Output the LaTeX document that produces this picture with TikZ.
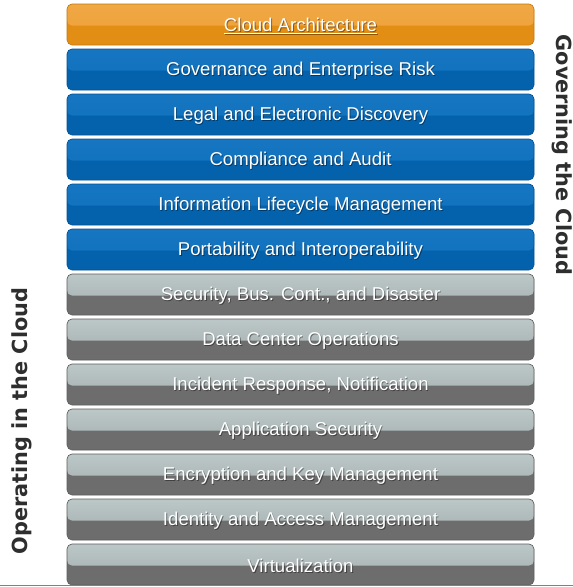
\documentclass[tikz,border=0pt]{standalone}
\usepackage{fontspec}
\setmainfont{Liberation Sans}
\newfontfamily\sidefont{DejaVu Sans}
\usetikzlibrary{calc}
\definecolor{orT}{HTML}{F0A845}
\definecolor{orM}{HTML}{EDA035}
\definecolor{orB}{HTML}{E28E14}
\definecolor{blT}{HTML}{1676C2}
\definecolor{blM}{HTML}{0E6FBB}
\definecolor{blB}{HTML}{0461AC}
\definecolor{grT}{HTML}{BCC7C7}
\definecolor{grM}{HTML}{A2ACAC}
\definecolor{grB}{HTML}{6D6D6D}
\definecolor{sidecol}{HTML}{2E2E2E}
\tikzset{
  bar/.style n args={3}{rounded corners=5pt, minimum width=467pt, minimum height=41pt,
    inner sep=0pt, fill=#3, draw=#3!85!black, line width=0.6pt,
    path picture={\fill[top color=#1, bottom color=#2]
      (path picture bounding box.north west) rectangle
      ([yshift=-1pt]path picture bounding box.east);}},
  orbar/.style={bar={orT}{orM}{orB}},
  blbar/.style={bar={blT}{blM}{blB}},
  grbar/.style={bar={grT}{grM}{grB}},
  bartext/.style={text=white, font=\fontsize{18.6}{21}\selectfont},
  bartshadow/.style={text=black, opacity=0.4, font=\fontsize{18.6}{21}\selectfont},
  sidelabel/.style={text=sidecol, font=\sidefont\bfseries\fontsize{20.8}{24}\selectfont}
}
\newcommand\mybar[4]{%
  \node[#2] (#1) at (300.5,{-24.5-45*#3}) {};
  \node[bartshadow] (#1s) at ($(#1)+(0.9pt,-2.4pt)$) {#4};
  \node[bartext] (#1t) at ($(#1)+(0pt,-1.5pt)$) {#4};
}
\begin{document}
\begin{tikzpicture}[x=1pt,y=1pt]
\useasboundingbox (0,0) rectangle (573,-587);
\fill[white] (0,0) rectangle (573,-587);
\mybar{b0}{orbar}{0}{\underline{Cloud Architecture}}
\mybar{b1}{blbar}{1}{Governance and Enterprise Risk}
\mybar{b2}{blbar}{2}{Legal and Electronic Discovery}
\mybar{b3}{blbar}{3}{Compliance and Audit}
\mybar{b4}{blbar}{4}{Information Lifecycle Management}
\mybar{b5}{blbar}{5}{Portability and Interoperability}
\mybar{b6}{grbar}{6}{Security, Bus. Cont., and Disaster}
\mybar{b7}{grbar}{7}{Data Center Operations}
\mybar{b8}{grbar}{8}{Incident Response, Notification}
\mybar{b9}{grbar}{9}{Application Security}
\mybar{b10}{grbar}{10}{Encryption and Key Management}
\mybar{b11}{grbar}{11}{Identity and Access Management}
\mybar{b12}{grbar}{12}{Virtualization}
\coordinate (l1) at (0,-585.5);
\coordinate (l2) at (573,-585.5);
\draw[line width=1.2pt, color=black!50] (l1) -- (l2);
\node[sidelabel, rotate=-90] (gov) at (562,-155) {Governing the Cloud};
\node[sidelabel, rotate=90] (ops) at (22,-421) {Operating in the Cloud};
\end{tikzpicture}
\end{document}
